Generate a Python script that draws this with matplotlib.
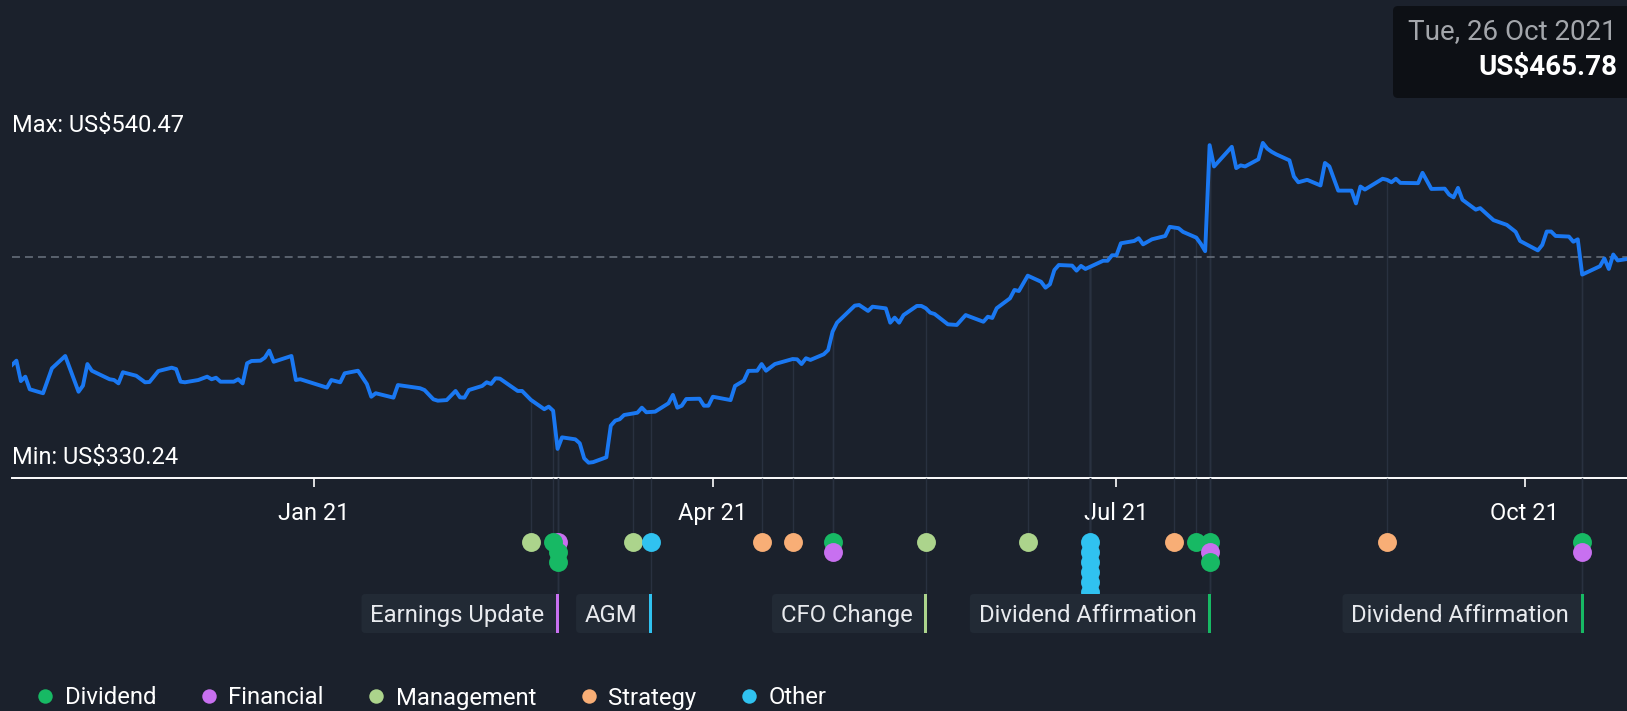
import numpy as np
import pandas as pd
import matplotlib
matplotlib.use('Agg')
import matplotlib.pyplot as plt
import matplotlib.dates as mdates
import matplotlib.transforms as mtransforms
from matplotlib.patches import FancyBboxPatch, Rectangle
from matplotlib.lines import Line2D

plt.rcParams['font.family'] = ['Roboto', 'DejaVu Sans']

# share price
price_dates = [
    '2020-10-25', '2020-10-26', '2020-10-27', '2020-10-28', '2020-10-29', '2020-11-01', '2020-11-03',
    '2020-11-06', '2020-11-09', '2020-11-10', '2020-11-11', '2020-11-12', '2020-11-16', '2020-11-17',
    '2020-11-18', '2020-11-19', '2020-11-22', '2020-11-24', '2020-11-25', '2020-11-27', '2020-11-30',
    '2020-12-01', '2020-12-02', '2020-12-03', '2020-12-06', '2020-12-08', '2020-12-09', '2020-12-10',
    '2020-12-11', '2020-12-14', '2020-12-15', '2020-12-16', '2020-12-17', '2020-12-18', '2020-12-20',
    '2020-12-21', '2020-12-22', '2020-12-23', '2020-12-27', '2020-12-28', '2020-12-29',
    '2021-01-04', '2021-01-05', '2021-01-07', '2021-01-08', '2021-01-11', '2021-01-13', '2021-01-14',
    '2021-01-15', '2021-01-19', '2021-01-20', '2021-01-25', '2021-01-26', '2021-01-28', '2021-01-29',
    '2021-01-31', '2021-02-02', '2021-02-03', '2021-02-04', '2021-02-05', '2021-02-08', '2021-02-09',
    '2021-02-10', '2021-02-11', '2021-02-12', '2021-02-16', '2021-02-17', '2021-02-19', '2021-02-22',
    '2021-02-23', '2021-02-24', '2021-02-25', '2021-02-26', '2021-03-01', '2021-03-02', '2021-03-03',
    '2021-03-04', '2021-03-05', '2021-03-08', '2021-03-09', '2021-03-10', '2021-03-11', '2021-03-12',
    '2021-03-15', '2021-03-16', '2021-03-17', '2021-03-19', '2021-03-22', '2021-03-23', '2021-03-24',
    '2021-03-25', '2021-03-26', '2021-03-29', '2021-03-30', '2021-03-31', '2021-04-01', '2021-04-05',
    '2021-04-06', '2021-04-08', '2021-04-09', '2021-04-11', '2021-04-12', '2021-04-13', '2021-04-15',
    '2021-04-19', '2021-04-20', '2021-04-21', '2021-04-22', '2021-04-23', '2021-04-26', '2021-04-27',
    '2021-04-28', '2021-04-29', '2021-05-03', '2021-05-04', '2021-05-06', '2021-05-07', '2021-05-10',
    '2021-05-11', '2021-05-12', '2021-05-13', '2021-05-14', '2021-05-17', '2021-05-18', '2021-05-19',
    '2021-05-20', '2021-05-21', '2021-05-24', '2021-05-26', '2021-05-28', '2021-06-01', '2021-06-02',
    '2021-06-03', '2021-06-04', '2021-06-07', '2021-06-08', '2021-06-09', '2021-06-11', '2021-06-14',
    '2021-06-15', '2021-06-16', '2021-06-17', '2021-06-18', '2021-06-21', '2021-06-22', '2021-06-23',
    '2021-06-24', '2021-06-28', '2021-06-29', '2021-06-30', '2021-07-01', '2021-07-02', '2021-07-05',
    '2021-07-06', '2021-07-07', '2021-07-09', '2021-07-12', '2021-07-13', '2021-07-15', '2021-07-16',
    '2021-07-19', '2021-07-20', '2021-07-21', '2021-07-22', '2021-07-23', '2021-07-27', '2021-07-28',
    '2021-07-29', '2021-07-30', '2021-08-02', '2021-08-03', '2021-08-04', '2021-08-05', '2021-08-06',
    '2021-08-09', '2021-08-10', '2021-08-11', '2021-08-13', '2021-08-16', '2021-08-17', '2021-08-18',
    '2021-08-20', '2021-08-23', '2021-08-24', '2021-08-25', '2021-08-26', '2021-08-30', '2021-08-31',
    '2021-09-01', '2021-09-02', '2021-09-03', '2021-09-07', '2021-09-08', '2021-09-10', '2021-09-13',
    '2021-09-14', '2021-09-15', '2021-09-16', '2021-09-17', '2021-09-20', '2021-09-21', '2021-09-24',
    '2021-09-27', '2021-09-29', '2021-09-30', '2021-10-04', '2021-10-05', '2021-10-06', '2021-10-07',
    '2021-10-08', '2021-10-11', '2021-10-12', '2021-10-13', '2021-10-14', '2021-10-18', '2021-10-19',
    '2021-10-20', '2021-10-21', '2021-10-22', '2021-10-25', '2021-10-26',
]
prices = [
    394.5, 397.3, 383.9, 386.8, 378.5, 375.9, 392.3,
    400.4, 376.9, 380.9, 395.1, 390.7, 385.1, 384.6,
    382.4, 389.7, 387.4, 383.1, 383.3, 390.5, 392.7,
    391.8, 383.5, 383.1, 384.6, 386.8, 385.1, 386.1,
    383.5, 383.5, 385.1, 382.4, 395.6, 397.1, 397.3,
    399.3, 403.9, 396.6, 400.4, 384.6, 385.1,
    379.6, 384.6, 383.1, 389.0, 390.7, 382.0, 373.6,
    375.9, 373.0, 381.3, 379.2, 378.0, 371.9, 371.0,
    371.4, 377.4, 373.2, 373.0, 378.0, 380.7, 383.1,
    382.0, 385.7, 385.5, 377.4, 377.4, 371.5, 365.4,
    367.1, 364.4, 339.3, 346.9, 345.6, 343.0, 333.1,
    330.24, 330.6, 333.8, 354.6, 357.9, 358.8, 361.6,
    363.1, 366.4, 363.4, 363.8, 369.3, 374.8, 366.4,
    367.7, 372.1, 372.3, 367.7, 367.7, 373.6, 371.4,
    380.7, 384.2, 390.6, 390.7, 395.1, 390.7, 395.1,
    398.4, 398.2, 395.1, 398.9, 397.8, 401.5, 404.3,
    416.4, 422.3, 433.5, 433.9, 430.0, 432.8, 431.7,
    422.3, 425.6, 422.3, 427.3, 433.3, 433.3, 431.8,
    428.9, 428.0, 421.2, 420.8, 427.3, 422.9, 426.2,
    425.4, 431.8, 438.3, 443.8, 443.1, 453.2, 449.2,
    445.3, 447.5, 456.9, 460.2, 459.8, 456.5, 459.6,
    457.6, 463.0, 463.0, 466.6, 466.6, 474.5, 476.0,
    477.8, 473.8, 477.1, 479.3, 485.3, 484.4, 482.0,
    478.2, 474.2, 469.3, 539.0, 525.0, 537.9, 523.9,
    525.7, 525.0, 529.7, 540.47, 536.7, 534.6, 533.0,
    529.0, 518.4, 514.6, 516.2, 512.5, 527.3, 525.0,
    509.1, 509.1, 500.7, 511.8, 509.8, 516.9, 516.2,
    514.6, 516.9, 514.2, 514.0, 520.8, 510.2, 510.4,
    506.5, 504.7, 510.9, 503.1, 496.6, 497.6, 489.7,
    486.6, 482.0, 476.0, 469.8, 473.4, 482.2, 482.2,
    479.3, 478.9, 475.5, 477.1, 453.9, 459.4, 464.5,
    457.6, 467.1, 463.2, 464.5, 465.78,
]

# company events shown under the axis
event_dates = [
    '2021-02-19', '2021-02-24', '2021-02-25', '2021-02-25', '2021-02-25',
    '2021-03-14', '2021-03-18', '2021-04-12', '2021-04-19', '2021-04-28', '2021-04-28',
    '2021-05-19', '2021-06-11',
    '2021-06-25', '2021-06-25', '2021-06-25', '2021-06-25', '2021-06-25', '2021-06-25',
    '2021-07-14', '2021-07-19', '2021-07-22', '2021-07-22', '2021-07-22',
    '2021-08-31', '2021-10-14', '2021-10-14',
]
event_types = [
    'Management', 'Dividend', 'Financial', 'Dividend', 'Dividend',
    'Management', 'Other', 'Strategy', 'Strategy', 'Dividend', 'Financial',
    'Management', 'Management',
    'Other', 'Other', 'Other', 'Other', 'Other', 'Other',
    'Strategy', 'Dividend', 'Dividend', 'Financial', 'Dividend',
    'Strategy', 'Dividend', 'Financial',
]

label_dates = ['2021-02-25', '2021-03-18', '2021-05-19', '2021-07-22', '2021-10-14']
label_texts = ['Earnings Update', 'AGM', 'CFO Change', 'Dividend Affirmation', 'Dividend Affirmation']
label_types = ['Financial', 'Other', 'Management', 'Dividend', 'Dividend']

categories = ['Dividend', 'Financial', 'Management', 'Strategy', 'Other']
cat_colors = {
    'Dividend': '#17b964',
    'Financial': '#c870f0',
    'Management': '#acd48c',
    'Strategy': '#f8ae76',
    'Other': '#30c2f0',
}

BG = '#1b212c'
W, H = 1627, 711
AXIS_Y = 478      # px from top where the date axis sits
LEFT = 12

fig = plt.figure(figsize=(W / 100, H / 100), dpi=100, facecolor=BG)
ax = fig.add_axes([LEFT / W, 1 - AXIS_Y / H, (W - LEFT) / W, AXIS_Y / H])
ax2 = fig.add_axes([LEFT / W, 0, (W - LEFT) / W, 1 - AXIS_Y / H], sharex=ax)
for a in (ax, ax2):
    a.set_facecolor('none')

dates = pd.to_datetime(price_dates)
prices = np.array(prices)
xnum = mdates.date2num(dates)

ax.plot(dates, prices, color='#1a78f2', lw=2.8, zorder=3)
ax.axhline(prices[-1], color='#6b7480', lw=1.1, dashes=(5.2, 3.3), zorder=2)

ax.set_xlim(dates[0], dates[0] + pd.Timedelta(days=364.1))
ax.set_ylim(320.18, 634.42)

for s in ['top', 'left', 'right']:
    ax.spines[s].set_visible(False)
ax.spines['bottom'].set_color('white')
ax.spines['bottom'].set_linewidth(1.4)
ax.set_yticks([])
ax.xaxis.set_major_locator(mdates.MonthLocator(bymonth=[1, 4, 7, 10]))
ax.xaxis.set_major_formatter(mdates.DateFormatter('%b %y'))
ax.tick_params(axis='x', colors='white', length=6.5, width=1.2, labelsize=17, pad=10.5)

ax.annotate(f'Max: US${prices.max():.2f}', xy=(0, prices.max()), xycoords=('axes fraction', 'data'),
            xytext=(0, 12.2), textcoords='offset points', va='center', ha='left',
            color='white', fontsize=17)
ax.annotate(f'Min: US${prices.min():.2f}', xy=(0, prices.min()), xycoords=('axes fraction', 'data'),
            xytext=(0, 3.6), textcoords='offset points', va='center', ha='left',
            color='white', fontsize=17)

# events on the same day are stacked downwards
ev = pd.to_datetime(event_dates)
rows = np.array([sum(ev[j] == d for j in range(i)) for i, d in enumerate(ev)])

ev_price = np.interp(mdates.date2num(ev), xnum, prices)
ax.vlines(ev, 320.18, ev_price, color='#293140', lw=1, zorder=1)

ax2.set_ylim(H - AXIS_Y, 0)
ax2.axis('off')

DOT_Y = 63.7
BOX_TOP, BOX_BOT = 116, 155
lab = pd.to_datetime(label_dates)
line_end = np.array([BOX_TOP if d in set(lab) else DOT_Y + 10 * r for d, r in zip(ev, rows)])
ax2.vlines(ev, 0, line_end, color='#293140', lw=1, zorder=1)
for i, (d, t, r) in enumerate(zip(ev, event_types, rows)):
    z = 3 + r + (0.5 if t == 'Dividend' else 0) + i * 0.001
    ax2.scatter([d], [DOT_Y + 10 * r], s=185, color=cat_colors[t], lw=0, zorder=z)

# event labels with the coloured bar on the right
txt_tf = mtransforms.offset_copy(ax2.transData, fig=fig, x=-13, y=0, units='dots')
texts = []
for d, t in zip(lab, label_texts):
    texts.append(ax2.text(d, 143.7, t, ha='right', va='baseline', color='#e8eaee',
                          fontsize=17.2, transform=txt_tf, zorder=16))

fig.canvas.draw()
renderer = fig.canvas.get_renderer()
ident = mtransforms.IdentityTransform()
for d, t, typ in zip(lab, texts, label_types):
    bb = t.get_window_extent(renderer)
    bar_x = ax2.transData.transform((mdates.date2num(d), 0))[0]
    y0 = H - (AXIS_Y + BOX_BOT)
    box = FancyBboxPatch((bb.x0 - 9, y0), bar_x + 1.5 - (bb.x0 - 9), BOX_BOT - BOX_TOP,
                         boxstyle='round,pad=0,rounding_size=4', transform=ident,
                         facecolor='#222a35', edgecolor='none', zorder=14)
    ax2.add_artist(box)
    ax2.add_artist(Rectangle((bar_x - 1.5, y0), 3, BOX_BOT - BOX_TOP, transform=ident,
                             facecolor=cat_colors[typ], edgecolor='none', zorder=15))

# hover tooltip in the top right corner
tip = FancyBboxPatch((1393, H - 98), 260, 92, boxstyle='round,pad=0,rounding_size=5',
                     transform=ident, facecolor='#0d1015', edgecolor='none', zorder=6)
fig.add_artist(tip)
fig.text(1617 / W, 1 - 32 / H, f'{dates[-1]:%a, %d %b %Y}', ha='right', va='center',
         color='#a3a6ab', fontsize=20, zorder=7)
fig.text(1617 / W, 1 - 68 / H, f'US${prices[-1]:.2f}', ha='right', va='center',
         color='white', fontsize=20, fontweight='bold', zorder=7)

handles = [Line2D([], [], marker='o', ls='', markersize=10.4, markerfacecolor=cat_colors[c],
                  markeredgewidth=0) for c in categories]
fig.legend(handles, categories, loc='center left', bbox_to_anchor=(36 / W, 1 - 698 / H),
           ncol=5, frameon=False, fontsize=17.2, labelcolor='white', handlelength=0.75,
           handletextpad=0.45, columnspacing=1.82, borderaxespad=0, borderpad=0)

fig.savefig('out.png', dpi=100, facecolor=BG)
